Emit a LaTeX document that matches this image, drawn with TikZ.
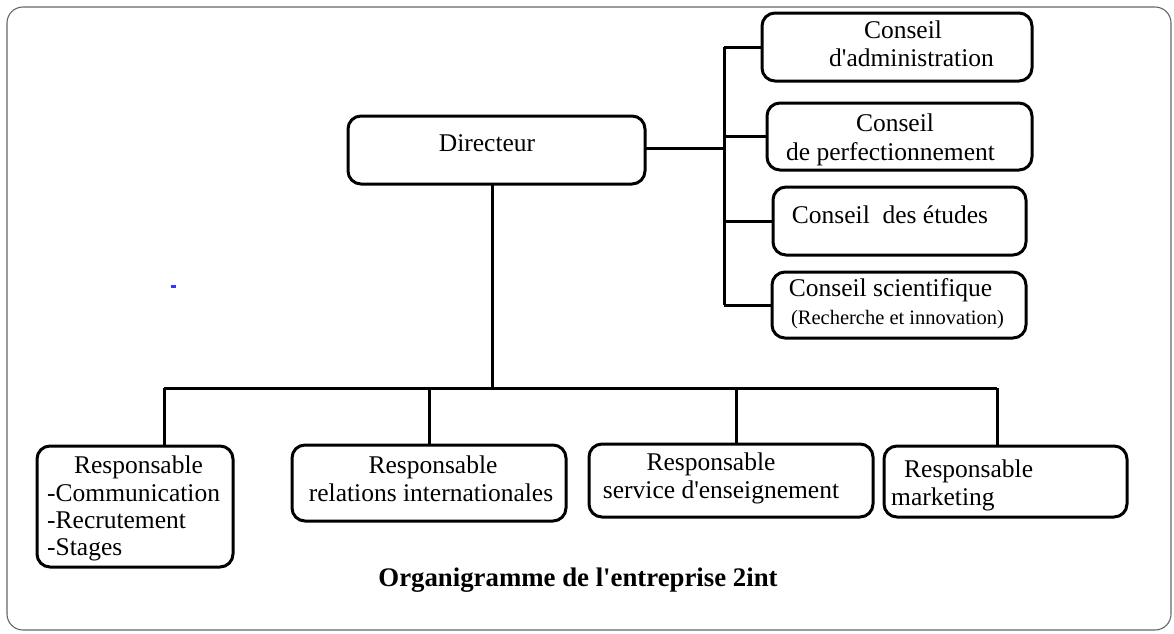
\documentclass[tikz,border=0pt]{standalone}
\usepackage{fontspec}
\setmainfont{Liberation Serif}[Ligatures=TeXOff]
\begin{document}
\begin{tikzpicture}[x=1pt,y=-1pt,
  box/.style={draw=black, line width=3pt, rounded corners=13pt, inner sep=0pt, outer sep=0pt},
  link/.style={draw=black, line width=3pt},
  lbl/.style={inner sep=0pt, font=\fontsize{25.5}{28}\selectfont, text height=17pt, text depth=5pt},
  small/.style={inner sep=0pt, font=\fontsize{20.5}{23}\selectfont, text height=14pt, text depth=4pt},
  caption/.style={inner sep=0pt, font=\fontsize{26.8}{30}\selectfont\bfseries}]
\useasboundingbox (0,0) rectangle (1174,633);
% outer frame
\draw[gray!80!black, line width=1.1pt, rounded corners=16pt] (7,7) rectangle (1171,630);
% small blue mark
\fill[blue!80] (171,285) rectangle (176,288);

% boxes
\node[box, minimum width=297pt, minimum height=68pt] (dir) at (496.5,150) {};
\node[box, minimum width=270pt, minimum height=68pt] (c1) at (897,47) {};
\node[box, minimum width=265pt, minimum height=67pt] (c2) at (899.5,136.5) {};
\node[box, minimum width=253pt, minimum height=68pt] (c3) at (899.5,221) {};
\node[box, minimum width=254pt, minimum height=66pt] (c4) at (899,305) {};
\node[box, minimum width=196pt, minimum height=121pt] (r1) at (135,506.5) {};
\node[box, minimum width=274pt, minimum height=76pt] (r2) at (429,483) {};
\node[box, minimum width=284pt, minimum height=73pt] (r3) at (731,480.5) {};
\node[box, minimum width=243pt, minimum height=71pt] (r4) at (1005.5,481.5) {};

% texts
\node[lbl] (dirt) at (487,145) {Directeur};
\node[lbl] (c1a) at (903,32) {Conseil};
\node[lbl] (c1b) at (911.5,60) {d'administration};
\node[lbl] (c2a) at (895,125) {Conseil};
\node[lbl] (c2b) at (890.5,154) {de perfectionnement};
\node[lbl] (c3a) at (890,217) {Conseil\ \ des études};
\node[lbl] (c4a) at (890.5,290) {Conseil scientifique};
\node[small] (c4b) at (897.5,319) {(Recherche et innovation)};
\node[lbl] (r1a) at (138.5,467) {Responsable};
\node[lbl, anchor=west] (r1b) at (47,495) {-Communication};
\node[lbl, anchor=west] (r1c) at (47,522) {-Recrutement};
\node[lbl, anchor=west] (r1d) at (47,549) {-Stages};
\node[lbl] (r2a) at (433,467) {Responsable};
\node[lbl] (r2b) at (431,495) {relations internationales};
\node[lbl] (r3a) at (711,464) {Responsable};
\node[lbl] (r3b) at (721,492) {service d'enseignement};
\node[lbl, anchor=west] (r4a) at (904,471) {Responsable};
\node[lbl, anchor=west] (r4b) at (891,499) {marketing};
\node[caption] (cap) at (578,580) {Organigramme de l'entreprise 2int};

% connectors: directeur to the councils
\coordinate (trunk) at (724,148);
\draw[link] (dir.east |- trunk) -- (trunk);
\draw[link] (c1.west -| trunk) -- (c4.west -| trunk);
\draw[link] (c1.west -| trunk) -- (c1.west);
\draw[link] (c2.west -| trunk) -- (c2.west);
\draw[link] (c3.west -| trunk) -- (c3.west);
\draw[link] (c4.west -| trunk) -- (c4.west);

% connectors: directeur to the managers
\coordinate (hub) at (492,388);
\coordinate (b1) at (164,388);
\coordinate (b3) at (736,388);
\coordinate (b4) at (997,388);
\draw[link] (hub |- dir.south) -- (hub);
\draw[link] (b1) -- (b4);
\draw[link] (b1) -- (b1 |- r1.north);
\draw[link] (r2.north |- hub) -- (r2.north);
\draw[link] (b3) -- (b3 |- r3.north);
\draw[link] (b4) -- (b4 |- r4.north);
\end{tikzpicture}
\end{document}
